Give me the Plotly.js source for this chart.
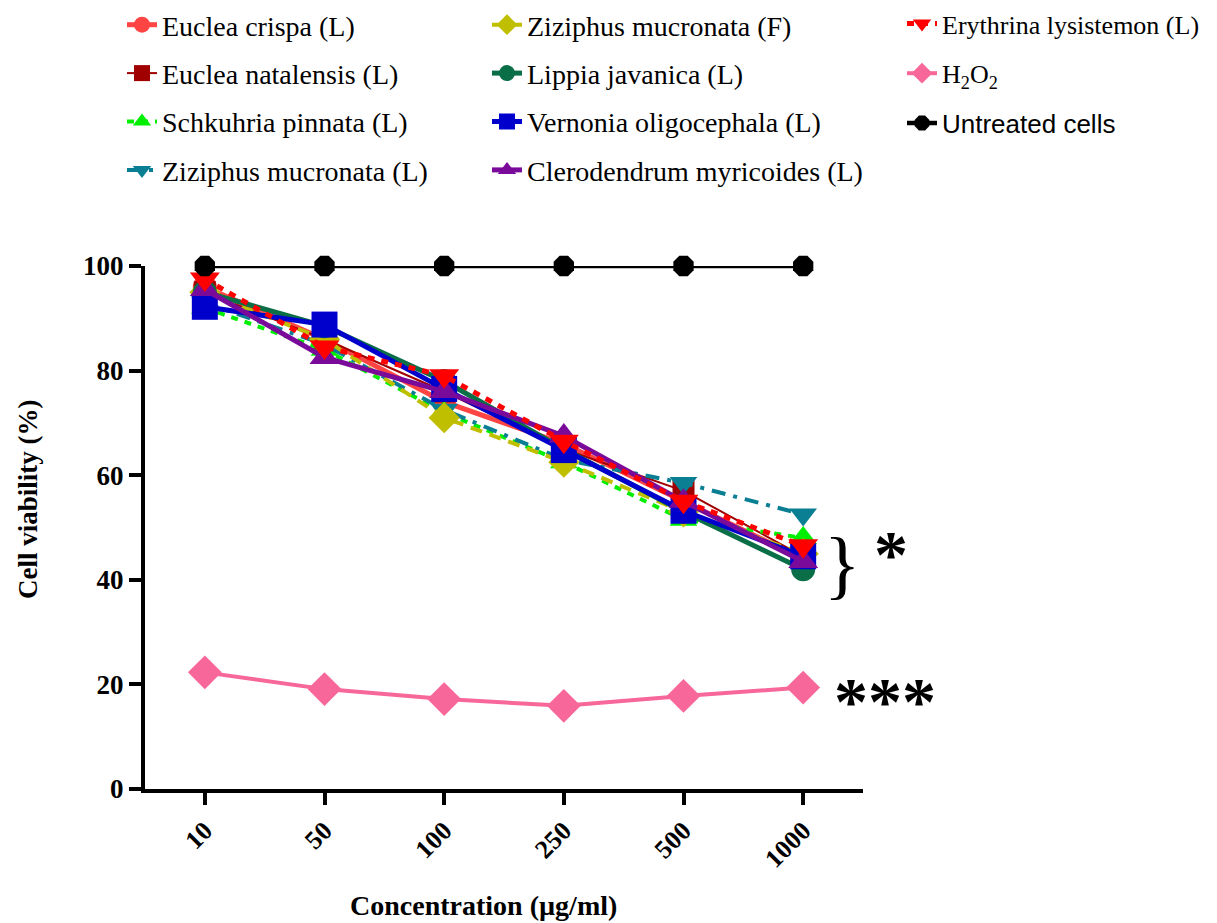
<!DOCTYPE html>
<html>
<head>
<meta charset="utf-8">
<script src="https://cdn.plot.ly/plotly-3.0.1.min.js"></script>
<style>html,body{margin:0;padding:0;background:#fff;}#chart{width:1217px;height:923px;}</style>
</head>
<body>
<div id="chart"></div>
<script>
// Concentration categories (µg/ml)
const concentrations = ['10', '50', '100', '250', '500', '1000'];

// Cell viability (%) per extract
const eucleaCrispa        = [96.0, 86.0, 74.0, 66.0, 55.0, 44.0];
const eucleaNatalensis    = [95.0, 86.0, 76.0, 65.0, 57.0, 44.5];
const schkuhriaPinnata    = [92.0, 84.0, 72.0, 62.5, 51.5, 48.0];
const ziziphusLeaf        = [93.0, 85.0, 72.5, 63.0, 58.5, 52.5];
const ziziphusFruit       = [95.0, 86.0, 71.0, 62.5, 53.0, 45.0];
const lippiaJavanica      = [95.0, 88.5, 78.0, 65.0, 53.0, 42.0];
const vernoniaOligo       = [92.2, 88.8, 76.5, 64.8, 53.2, 44.5];
const clerodendrumMyr     = [95.5, 82.5, 76.0, 67.5, 55.0, 43.5];
const erythrinaLys        = [97.5, 84.5, 79.0, 66.5, 55.0, 46.5];
const h2o2                = [22.3, 19.1, 17.2, 15.9, 17.8, 19.4];
const untreatedCells      = [100, 100, 100, 100, 100, 100];

const xTitle = 'Concentration (µg/ml)';
const yTitle = 'Cell viability (%)';

const serif = 'Liberation Serif, Times New Roman, serif';

function tr(name, y, color, width, dash, symbol, size, legend, group) {
  return {
    type: 'scatter', mode: 'lines+markers', x: concentrations, y: y, name: name,
    line: {color: color, width: width, dash: dash},
    marker: {color: color, symbol: symbol, size: size},
    legend: legend, legendgroup: group, cliponaxis: false
  };
}

const traces = [
  tr('Euclea crispa (L)', eucleaCrispa, '#FF4444', 5, 'solid', 'circle', 24, 'legend', 'g1'),
  tr('Euclea natalensis (L)', eucleaNatalensis, '#A00000', 2, 'solid', 'square', 22, 'legend', 'g2'),
  tr('Schkuhria pinnata (L)', schkuhriaPinnata, '#00EE00', 4, '7px,7px', 'triangle-up', 24, 'legend', 'g3'),
  tr('Ziziphus mucronata (L)', ziziphusLeaf, '#0A7F94', 4, '14px,8px,4px,8px', 'triangle-down', 24, 'legend', 'g4'),
  tr('Ziziphus mucronata (F)', ziziphusFruit, '#BFBF00', 4, '12px,8px', 'diamond', 24, 'legend2', 'g5'),
  tr('Lippia javanica (L)', lippiaJavanica, '#0A6E46', 5, 'solid', 'circle', 24, 'legend2', 'g6'),
  tr('Vernonia oligocephala (L)', vernoniaOligo, '#0000CC', 5, 'solid', 'square', 26, 'legend2', 'g7'),
  tr('Clerodendrum myricoides (L)', clerodendrumMyr, '#7A0A9A', 5, 'solid', 'triangle-up', 26, 'legend2', 'g8'),
  tr('Erythrina lysistemon (L)', erythrinaLys, '#FF0000', 5, '7px,7px', 'triangle-down', 26, 'legend3', 'g9'),
  tr('H<sub>2</sub>O<sub>2</sub>', h2o2, '#F8679A', 4, 'solid', 'diamond', 26, 'legend3', 'g10'),
  tr('<span style="font-family:Liberation Sans, Arial, sans-serif">Untreated cells</span>', untreatedCells, '#000000', 4.5, 'solid', 'octagon', 22, 'legend3', 'g11')
];

function leg(xpx, ypx, fs, gap) {
  return {
    xref: 'container', yref: 'container', x: xpx / 1217, y: 1 - ypx / 923,
    xanchor: 'left', yanchor: 'top', traceorder: 'grouped', tracegroupgap: gap,
    font: {family: serif, size: fs, color: '#000'}, bgcolor: 'rgba(0,0,0,0)'
  };
}

const layout = {
  width: 1217, height: 923,
  margin: {l: 145, r: 354, t: 266, b: 134, autoexpand: false},
  paper_bgcolor: '#fff', plot_bgcolor: '#fff',
  showlegend: true,
  legend: leg(122, 0, 28, 9),
  legend2: leg(487, 0, 28, 9),
  legend3: leg(902, -1, 26, 13),
  xaxis: {
    type: 'category', range: [-0.5, 5.5],
    showline: true, linecolor: '#000', linewidth: 4,
    ticks: 'outside', ticklen: 12, tickwidth: 4, tickcolor: '#000',
    tickangle: -45, showgrid: false, zeroline: false,
    tickfont: {family: serif, size: 26, color: '#000', weight: 'bold'}
  },
  yaxis: {
    range: [0, 100], tickvals: [0, 20, 40, 60, 80, 100],
    showline: true, linecolor: '#000', linewidth: 4,
    ticks: 'outside', ticklen: 12, tickwidth: 4, tickcolor: '#000',
    showgrid: false, zeroline: false,
    tickfont: {family: serif, size: 27, color: '#000', weight: 'bold'}
  },
  annotations: [
    {xref: 'paper', yref: 'paper', x: (483 - 145) / 718, y: 0, yshift: -116,
     text: xTitle, showarrow: false,
     font: {family: serif, size: 28, color: '#000', weight: 'bold'}, xanchor: 'center', yanchor: 'middle'},
    {xref: 'paper', yref: 'paper', x: 0, xshift: -117, y: (789 - 500) / 523,
     text: yTitle, showarrow: false, textangle: -90,
     font: {family: serif, size: 27, color: '#000', weight: 'bold'}, xanchor: 'center', yanchor: 'middle'},
    {xref: 'paper', yref: 'y', x: 0.971, y: 43, text: '}', showarrow: false,
     font: {family: serif, size: 76, color: '#000'}, xanchor: 'center', yanchor: 'middle'},
    {xref: 'paper', yref: 'y', x: 1.039, y: 45, text: '*', showarrow: false,
     font: {family: serif, size: 68, color: '#000', weight: 'bold'}, xanchor: 'center', yanchor: 'middle'},
    {xref: 'paper', yref: 'y', x: 1.031, y: 16.8, text: '***', showarrow: false,
     font: {family: serif, size: 68, color: '#000', weight: 'bold'}, xanchor: 'center', yanchor: 'middle'}
  ]
};

Plotly.newPlot('chart', traces, layout, {displayModeBar: false, staticPlot: true});
</script>
</body>
</html>
